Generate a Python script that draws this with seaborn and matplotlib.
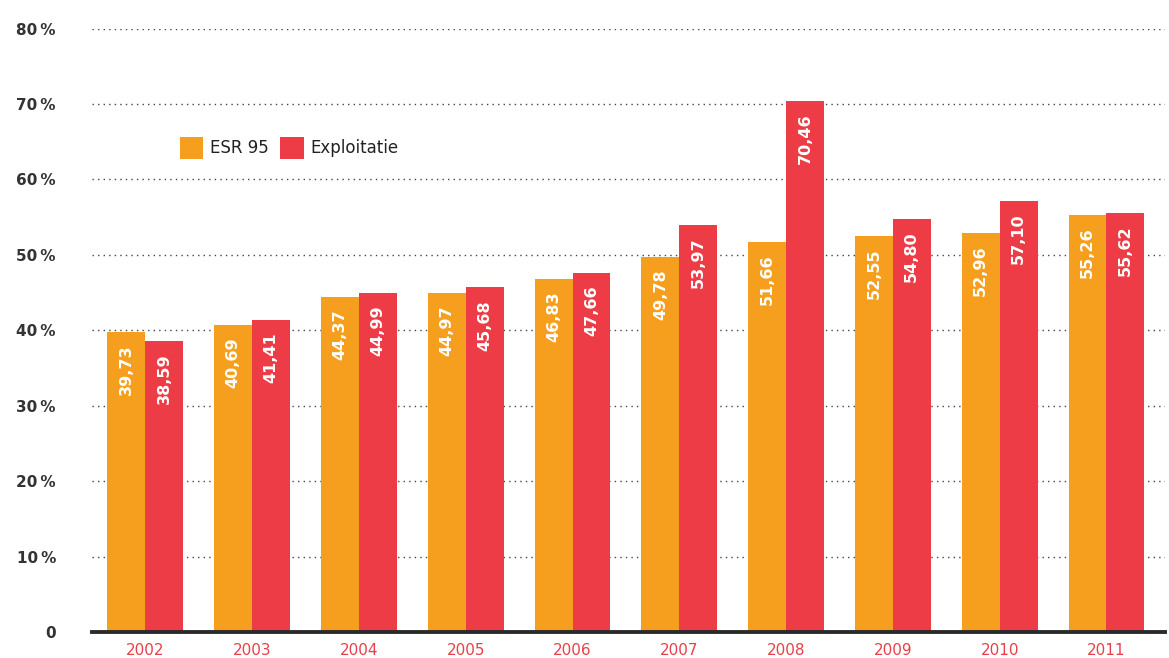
import matplotlib
matplotlib.use("Agg")
import matplotlib.pyplot as plt
import seaborn as sns
import pandas as pd

years = ["2002", "2003", "2004", "2005", "2006", "2007", "2008", "2009", "2010", "2011"]
esr95 = [39.73, 40.69, 44.37, 44.97, 46.83, 49.78, 51.66, 52.55, 52.96, 55.26]
exploitatie = [38.59, 41.41, 44.99, 45.68, 47.66, 53.97, 70.46, 54.80, 57.10, 55.62]
series_names = ["ESR 95", "Exploitatie"]
y_ticks = [0, 10, 20, 30, 40, 50, 60, 70, 80]
y_tick_labels = ["0", "10\u2009%", "20\u2009%", "30\u2009%", "40\u2009%", "50\u2009%", "60\u2009%", "70\u2009%", "80\u2009%"]

ORANGE = "#F69F1E"
RED = "#EE3C46"

df = pd.DataFrame({
    "year": years * 2,
    "value": esr95 + exploitatie,
    "series": [series_names[0]] * len(years) + [series_names[1]] * len(years),
})

sns.set_theme(style="white")
plt.rcParams["font.family"] = ["DejaVu Sans"]

fig = plt.figure(figsize=(11.69, 6.58), dpi=100)
ax = fig.add_axes([0.0787, 0.0395, 0.918, 0.917])

sns.barplot(data=df, x="year", y="value", hue="series", order=years,
            hue_order=series_names, palette=[ORANGE, RED], width=0.71,
            saturation=1, linewidth=0, edgecolor="none", ax=ax, legend=True)

ax.set_ylim(0, 80)
ax.set_xlim(-0.5, len(years) - 0.45)
ax.set_yticks(y_ticks)
ax.set_yticklabels(y_tick_labels, fontsize=11, fontweight="bold", color="#333333")
ax.tick_params(axis="y", length=0, pad=26)
ax.tick_params(axis="x", length=0, pad=8, labelsize=11, labelcolor="#E8404A")
ax.set_xlabel("")
ax.set_ylabel("")

for s in ["top", "right", "left"]:
    ax.spines[s].set_visible(False)
ax.spines["bottom"].set_color("#2b2b2b")
ax.spines["bottom"].set_linewidth(2.8)

ax.set_axisbelow(True)
ax.yaxis.grid(True, linestyle=(0, (1, 3)), color="#444444", linewidth=1.0)
ax.xaxis.grid(False)

for cont in ax.containers:
    for p in cont:
        h = p.get_height()
        ax.annotate(f"{h:.2f}".replace(".", ","),
                    xy=(p.get_x() + p.get_width() / 2, h),
                    xytext=(0, -9), textcoords="offset points",
                    rotation=90, ha="center", va="top",
                    color="white", fontsize=11.5, fontweight="bold")

leg = ax.legend(loc="upper left", bbox_to_anchor=(0.068, 0.846), ncol=2, frameon=False,
                fontsize=12, handlelength=1.4, handleheight=1.7, columnspacing=0.7,
                handletextpad=0.4)
for t in leg.get_texts():
    t.set_color("#222222")

fig.savefig("out.png", dpi=100)
